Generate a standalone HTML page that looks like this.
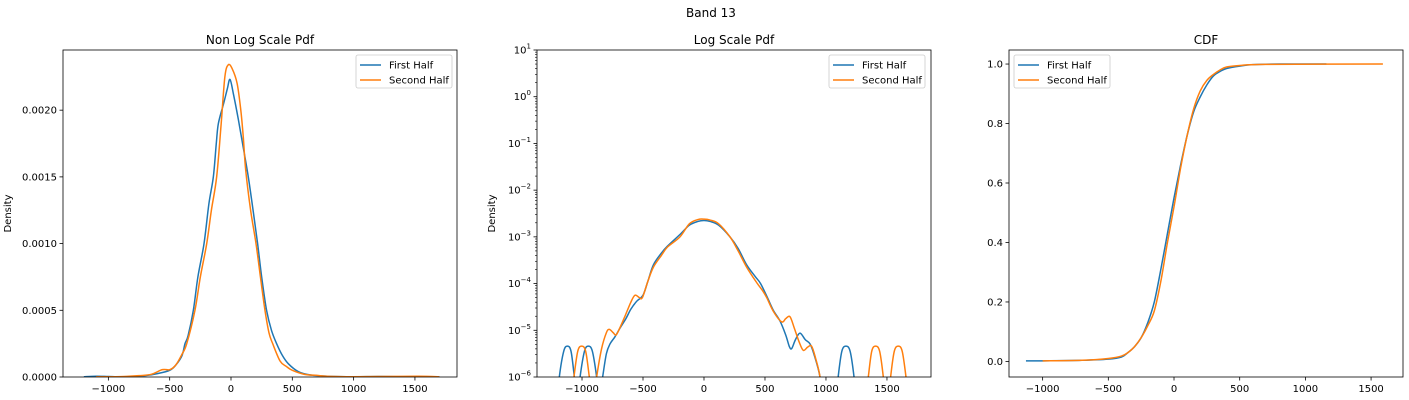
<!DOCTYPE html>
<html><head><meta charset="utf-8"><style>
body{margin:0;background:#fff;}
svg{display:block;font-family:"DejaVu Sans","Liberation Sans",sans-serif;}
</style></head><body>
<svg id="fig" width="1409" height="400" viewBox="0 0 1409 400" xmlns="http://www.w3.org/2000/svg">
<rect width="1409" height="400" fill="#fff"/>
<text x="711" y="17" font-size="12" text-anchor="middle">Band 13</text>
</svg>
<script>
// ---- data ----
const seriesNames = ["First Half", "Second Half"];
const pdfFirstX = [-1200,-1100,-1000,-900,-800,-700,-600,-500,-450,-400,-375,-350,-307,-270,-220,-180,-144,-120,-103,-60,-30,-8,20,60,100,141,180,217,250,290,330,372,420,467,550,650,800,1000,1200,1400,1700];
const pdfFirstY = [0.02,0.06,0.04,0.02,0.04,0.1,0.25,0.5,0.9,1.6,2.5,3.1,5,7.5,10,13,15,17.5,19,20.5,21.6,22.3,21.2,19.3,17.2,15,12.5,10,7.5,5,3.5,2.5,1.6,1.0,0.4,0.15,0.05,0.02,0.04,0.02,0.01];
const pdfSecondX = [-1100,-900,-750,-650,-560,-500,-450,-400,-361,-294,-250,-198,-160,-117,-80,-50,-22,10,50,80,100,120,160,204,240,277,310,340,400,450,500,600,700,800,1000,1400,1600,1700];
const pdfSecondY = [0.02,0.03,0.1,0.2,0.55,0.55,0.9,1.7,2.5,5,7.5,10,12.5,15,19,22.5,23.4,23.1,22,20,18,15.5,12.5,10,7.5,5,3.3,2.5,1.2,0.8,0.5,0.2,0.12,0.05,0.02,0.05,0.05,0.01];
const logFirstX = [-1200,-1186,-1150,-1120,-1090,-1063,-1040,-1016,-980,-948,-915,-880,-860,-831,-800,-770,-730,-688,-640,-600,-552,-500,-460,-415,-350,-300,-197,-120,-50,0,50,120,213,280,350,420,464,520,568,623,670,700,719,750,787,830,869,900,951,970,1080,1100,1130,1164,1198,1230,1250];
const logFirstY = [-6.5,-6,-5.45,-5.34,-5.45,-6,-6.6,-6,-5.45,-5.34,-5.45,-6,-6.5,-6,-5.5,-5.29,-5.14,-4.95,-4.75,-4.55,-4.38,-4.25,-3.95,-3.6,-3.35,-3.2,-2.95,-2.75,-2.67,-2.65,-2.67,-2.75,-3.0,-3.25,-3.6,-3.85,-4.0,-4.3,-4.57,-4.8,-5.1,-5.35,-5.39,-5.2,-5.06,-5.2,-5.29,-5.5,-6,-6.6,-6.6,-6,-5.45,-5.34,-5.45,-6,-6.6];
const logSecondX = [-1090,-1066,-1035,-1003,-970,-940,-910,-880,-840,-800,-776,-745,-721,-690,-648,-600,-566,-530,-505,-460,-415,-350,-300,-197,-120,-50,0,50,120,213,280,350,432,480,514,570,637,670,705,740,780,814,850,882,915,951,970,1320,1347,1375,1407,1440,1470,1490,1510,1530,1560,1593,1625,1656,1680];
const logSecondY = [-6.6,-6,-5.45,-5.34,-5.45,-6,-6.6,-6,-5.4,-5.05,-4.98,-5.05,-5.1,-4.95,-4.7,-4.4,-4.25,-4.3,-4.3,-3.95,-3.65,-3.4,-3.22,-3.0,-2.72,-2.63,-2.62,-2.64,-2.72,-3.0,-3.3,-3.65,-3.98,-4.15,-4.3,-4.6,-4.82,-4.75,-4.71,-4.95,-5.25,-5.43,-5.36,-5.34,-5.6,-6,-6.6,-6.6,-6,-5.45,-5.34,-5.45,-6,-6.6,-6.6,-6,-5.45,-5.34,-5.45,-6,-6.6];
const cdfFirstX = [-1127,-1000,-700,-500,-400,-350,-300,-250,-200,-150,-100,-50,0,50,100,150,200,250,300,350,400,500,600,800,1160];
const cdfFirstY = [0.002,0.002,0.004,0.008,0.015,0.03,0.05,0.08,0.13,0.2,0.31,0.43,0.55,0.66,0.76,0.84,0.89,0.93,0.96,0.975,0.985,0.993,0.998,1.0,1.0];
const cdfSecondX = [-1000,-700,-500,-400,-350,-300,-250,-200,-150,-100,-50,0,50,100,150,200,250,300,350,400,500,700,1590];
const cdfSecondY = [0.002,0.004,0.01,0.018,0.03,0.05,0.08,0.12,0.17,0.27,0.40,0.52,0.65,0.76,0.85,0.91,0.945,0.965,0.98,0.99,0.995,0.999,1.0];
const xTicks = [-1000,-500,0,500,1000,1500];
const pdfYTicks = [0,0.0005,0.001,0.0015,0.002];
const pdfYLabels = ["0.0000","0.0005","0.0010","0.0015","0.0020"];
const logYTicks = [-6,-5,-4,-3,-2,-1,0,1];
const cdfYTicks = [0,0.2,0.4,0.6,0.8,1.0];
const cdfYLabels = ["0.0","0.2","0.4","0.6","0.8","1.0"];

const NS="http://www.w3.org/2000/svg";
const fig=document.getElementById('fig');
const colors=["#1f77b4","#ff7f0e"];
function mk(tag,attrs,parent){const e=document.createElementNS(NS,tag);for(const k in attrs)e.setAttribute(k,attrs[k]);(parent||fig).appendChild(e);return e;}
function smoothPath(P){
  let d='M'+P[0][0].toFixed(2)+','+P[0][1].toFixed(2);
  for(let i=0;i<P.length-1;i++){
    const p0=P[Math.max(0,i-1)],p1=P[i],p2=P[i+1],p3=P[Math.min(P.length-1,i+2)];
    const c1x=p1[0]+(p2[0]-p0[0])/6,c1y=p1[1]+(p2[1]-p0[1])/6;
    const c2x=p2[0]-(p3[0]-p1[0])/6,c2y=p2[1]-(p3[1]-p1[1])/6;
    d+=` C${c1x.toFixed(2)},${c1y.toFixed(2)} ${c2x.toFixed(2)},${c2y.toFixed(2)} ${p2[0].toFixed(2)},${p2[1].toFixed(2)}`;
  }
  return d;
}

function axes(cfg){
  const {L,R,T,B,xmin,xmax,ymin,ymax,name}=cfg;
  const g=mk('g',{});
  
  
  const sx=v=>L+(v-xmin)/(xmax-xmin)*(R-L);
  const sy=v=>B-(v-ymin)/(ymax-ymin)*(B-T);
  const cid=name+'-clip';
  const cp=mk('clipPath',{id:cid},g);mk('rect',{x:L,y:T,width:R-L,height:B-T},cp);
  const t=mk('text',{x:(L+R)/2,y:T-6,'font-size':12,'text-anchor':'middle'},g);t.textContent=cfg.title;
  
  
  xTicks.forEach(v=>{const x=sx(v);mk('line',{x1:x,x2:x,y1:B,y2:B+3.5,stroke:'#000','stroke-width':0.8},g);
    const tx=mk('text',{x:x,y:B+15,'font-size':10,'text-anchor':'middle'},g);tx.textContent=(v<0?'\u2212'+(-v):String(v));
    
    });
  cfg.yTicks.forEach((v,i)=>{const y=sy(v);mk('line',{x1:L,x2:L-3.5,y1:y,y2:y,stroke:'#000','stroke-width':0.8},g);
    const ty=mk('text',{x:L-6,y:y+3.5,'font-size':10,'text-anchor':'end'},g);
    if(cfg.log){ty.textContent='10';const s=mk('tspan',{dy:-5,'font-size':7},ty);s.textContent=(v<0?'\u2212'+(-v):String(v));}
    else ty.textContent=cfg.yLabels[i];
    
    });
  if(cfg.log){for(let d=ymin;d<ymax;d++)for(let m=2;m<10;m++){const y=sy(d+Math.log10(m));mk('line',{x1:L,x2:L-2,y1:y,y2:y,stroke:'#000','stroke-width':0.6},g);}}
  if(cfg.ylabel){const yl=mk('text',{x:0,y:0,'font-size':10,'text-anchor':'middle',transform:`translate(${L-cfg.ylOff},${(T+B)/2}) rotate(-90)`},g);yl.textContent=cfg.ylabel;
    
    }
  cfg.series.forEach((s,i)=>{const P=s[0].map((x,j)=>[sx(x),sy(s[1][j])]);
    const p=mk('path',{d:smoothPath(P),fill:'none',stroke:colors[i],'stroke-width':1.5,'stroke-linejoin':'round','clip-path':`url(#${cid})`},g);
    
    });
  mk('rect',{x:L,y:T,width:R-L,height:B-T,fill:'none',stroke:'#000','stroke-width':0.8},g);
  const lx=cfg.legX, ly=T+5;
  const lg=mk('g',{},g);
  
  
  mk('rect',{x:lx,y:ly,width:96,height:33,rx:2,fill:'#fff','fill-opacity':0.8,stroke:'#ccc','stroke-width':0.8},lg);
  seriesNames.forEach((n,i)=>{const yy=ly+10+i*15;mk('line',{x1:lx+4,x2:lx+25,y1:yy,y2:yy,stroke:colors[i],'stroke-width':1.5},lg);
    const tt=mk('text',{x:lx+33,y:yy+3.5,'font-size':10},lg);tt.textContent=n;
    
    });
}
axes({name:'pdf',title:'Non Log Scale Pdf',L:63,R:457,T:50,B:377,xmin:-1370,xmax:1843,ymin:0,ymax:0.002451,yTicks:pdfYTicks,yLabels:pdfYLabels,ylabel:'Density',ylOff:52,legX:356,
  series:[[pdfFirstX,pdfFirstY.map(v=>v*1e-4)],[pdfSecondX,pdfSecondY.map(v=>v*1e-4)]]});
axes({name:'log-pdf',title:'Log Scale Pdf',L:537,R:931,T:50,B:377,xmin:-1369,xmax:1861,ymin:-6,ymax:1,log:true,yTicks:logYTicks,ylabel:'Density',ylOff:42,legX:829,
  series:[[logFirstX,logFirstY],[logSecondX,logSecondY]]});
axes({name:'cdf',title:'CDF',L:1009,R:1403,T:50,B:377,xmin:-1256,xmax:1743,ymin:-0.0523,ymax:1.0472,yTicks:cdfYTicks,yLabels:cdfYLabels,legX:1014,
  series:[[cdfFirstX,cdfFirstY],[cdfSecondX,cdfSecondY]]});
</script>
</body></html>
